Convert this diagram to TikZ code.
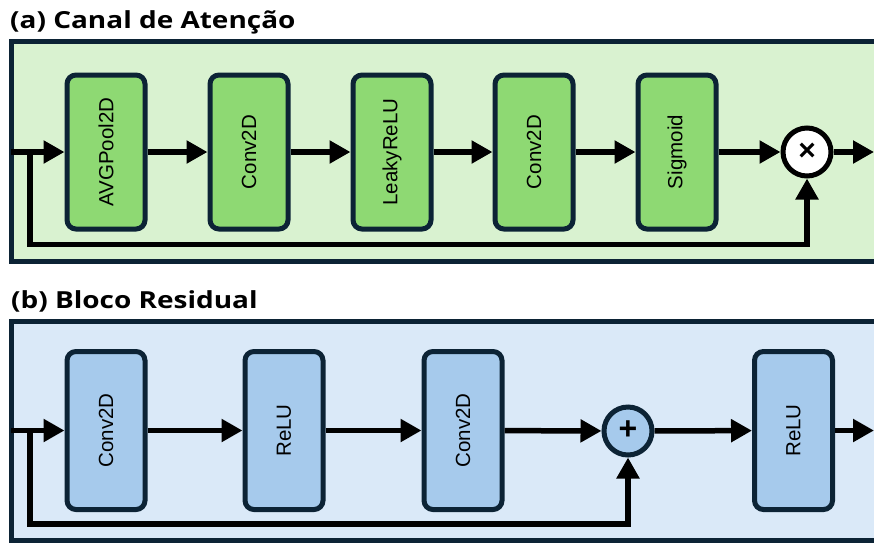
\documentclass[tikz,border=0pt]{standalone}
\usepackage{fontspec}
\setmainfont{Liberation Sans}
\newfontfamily\titlefont{Open Sans}
\usetikzlibrary{arrows.meta}
\definecolor{framec}{HTML}{0C2335}
\definecolor{gbg}{HTML}{D9F2D0}
\definecolor{gbox}{HTML}{8ED973}
\definecolor{bbg}{HTML}{DAE9F8}
\definecolor{bbox}{HTML}{A6CAEC}
\tikzset{
  panel/.style={draw=framec, line width=5pt},
  blk/.style={draw=framec, line width=5pt, rounded corners=9pt, minimum width=78pt, minimum height=154pt, inner sep=0pt, font=\fontsize{20.5}{22}\selectfont},
  opc/.style={circle, draw=framec, line width=5pt, minimum size=48pt, inner sep=0pt, font=\bfseries\fontsize{32}{32}\selectfont},
  arr/.style={draw=black, line width=5.5pt, line join=miter, -{Triangle[length=21pt,width=22pt]}},
  ttl/.style={anchor=base west, inner sep=0pt, font=\titlefont\bfseries\fontsize{23.5}{26}\selectfont}
}
\begin{document}
\begin{tikzpicture}[x=1pt,y=-1pt]
\useasboundingbox (0,0) rectangle (874,542);
\clip (0,0) rectangle (874,542);
% titles
\node[ttl] (ta) at (10,28) {\scalebox{1.19}[1]{(a) Canal de Atenção}};
\node[ttl] (tb) at (11,308) {\scalebox{1.19}[1]{(b) Bloco Residual}};
% panels
\draw[panel, fill=gbg] (11.5,41.5) rectangle (900,261.5);
\draw[panel, fill=bbg] (11.5,321) rectangle (900,540.5);
% panel a
\node[blk, fill=gbox] (a1) at (106,152) {\rotatebox{90}{AVGPool2D}};
\node[blk, fill=gbox] (a2) at (249,152) {\rotatebox{90}{Conv2D}};
\node[blk, fill=gbox] (a3) at (392,152) {\rotatebox{90}{LeakyReLU}};
\node[blk, fill=gbox] (a4) at (534,152) {\rotatebox{90}{Conv2D}};
\node[blk, fill=gbox] (a5) at (677,152) {\rotatebox{90}{Sigmoid}};
\node[opc, fill=white, draw=black, font=\bfseries\fontsize{30}{30}\selectfont] (am) at (807,152) {\raisebox{1pt}{×}};
\coordinate (ain) at (11,152);
\coordinate (asp) at (30,152);
\coordinate (aout) at (874,152);
\draw[arr] (ain) -- (a1);
\draw[arr] (a1) -- (a2);
\draw[arr] (a2) -- (a3);
\draw[arr] (a3) -- (a4);
\draw[arr] (a4) -- (a5);
\draw[arr] (a5) -- (am);
\draw[arr] (am) -- (aout);
\draw[arr] (asp) |- (807,244.5) -- (am.south);
% panel b
\node[blk, fill=bbox, minimum height=158pt] (b1) at (106,430.5) {\rotatebox{90}{Conv2D}};
\node[blk, fill=bbox, minimum height=158pt] (b2) at (284,430.5) {\rotatebox{90}{ReLU}};
\node[blk, fill=bbox, minimum height=158pt] (b3) at (463,430.5) {\rotatebox{90}{Conv2D}};
\node[opc, fill=bbox] (bp) at (628,431) {\raisebox{1pt}{+}};
\node[blk, fill=bbox, minimum height=158pt] (b4) at (793.5,430.5) {\rotatebox{90}{ReLU}};
\coordinate (bin) at (11,430.5);
\coordinate (bsp) at (30,430.5);
\coordinate (bout) at (874,430.5);
\draw[arr] (bin) -- (b1);
\draw[arr] (b1) -- (b2);
\draw[arr] (b2) -- (b3);
\draw[arr] (b3) -- (bp);
\draw[arr] (bp) -- (b4);
\draw[arr] (b4) -- (bout);
\draw[arr] (bsp) |- (628,524) -- (bp.south);
\end{tikzpicture}
\end{document}
